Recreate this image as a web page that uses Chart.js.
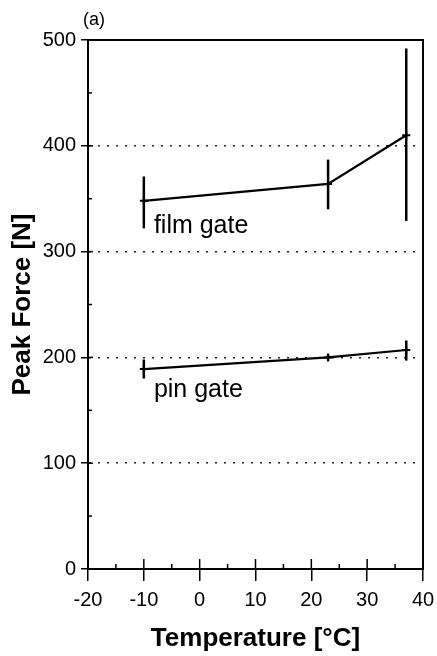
<!DOCTYPE html>
<html>
<head>
<meta charset="utf-8">
<script src="https://cdn.jsdelivr.net/npm/chart.js@4.4.1/dist/chart.umd.min.js"></script>
<style>
  body { margin: 0; background: #fff; }
  canvas { display: block; }
</style>
</head>
<body>
<canvas id="peak-force-chart" width="437" height="656"></canvas>
<script>
// temperatures [°C] and peak force [N]
const temps = [-10, 23, 37];
const filmForce = [348, 364, 410];
const filmErrLow = [322, 340, 329];
const filmErrHigh = [371, 387, 492];
const pinForce = [189, 200, 207];
const pinErrLow = [180, 197, 197];
const pinErrHigh = [198, 203, 216];

const xTicks = [-20, -10, 0, 10, 20, 30, 40];
const xMinor = [-15, -5, 5, 15, 25, 35];
const yTicks = [0, 100, 200, 300, 400, 500];
const yMinor = [50, 150, 250, 350, 450];

const FONT = "'Liberation Sans', Arial, Helvetica, sans-serif";

function points(ys) {
    return temps.map((t, i) => ({ x: t, y: ys[i] }));
}

// error bars, inward ticks and text labels drawn through the scales
const extras = {
    id: 'extras',
    afterDatasetsDraw(chart) {
        const ctx = chart.ctx;
        const xs = chart.scales.x, ys = chart.scales.y;
        const area = chart.chartArea;

        ctx.save();
        ctx.strokeStyle = '#000';
        ctx.lineCap = 'butt';

        // error bars
        ctx.lineWidth = 2.5;
        chart.data.datasets.forEach(ds => {
            ds.errLow.forEach((lo, i) => {
                const px = xs.getPixelForValue(temps[i]);
                ctx.beginPath();
                ctx.moveTo(px, ys.getPixelForValue(lo));
                ctx.lineTo(px, ys.getPixelForValue(ds.errHigh[i]));
                ctx.stroke();
            });
        });

        // inward tick marks
        ctx.lineWidth = 1.5;
        xTicks.forEach(v => {
            const px = xs.getPixelForValue(v);
            ctx.beginPath();
            ctx.moveTo(px, area.bottom);
            ctx.lineTo(px, area.bottom - 10);
            ctx.stroke();
        });
        xMinor.forEach(v => {
            const px = xs.getPixelForValue(v);
            ctx.beginPath();
            ctx.moveTo(px, area.bottom);
            ctx.lineTo(px, area.bottom - 5);
            ctx.stroke();
        });
        yTicks.forEach(v => {
            const py = ys.getPixelForValue(v);
            ctx.beginPath();
            ctx.moveTo(area.left, py);
            ctx.lineTo(area.left + 5, py);
            ctx.stroke();
        });
        yMinor.forEach(v => {
            const py = ys.getPixelForValue(v);
            ctx.beginPath();
            ctx.moveTo(area.left, py);
            ctx.lineTo(area.left + 4, py);
            ctx.stroke();
        });

        // series labels
        ctx.fillStyle = '#000';
        ctx.font = '25px ' + FONT;
        ctx.textAlign = 'left';
        ctx.textBaseline = 'alphabetic';
        ctx.fillText('film gate', xs.getPixelForValue(-8.2), ys.getPixelForValue(318));
        ctx.fillText('pin gate', xs.getPixelForValue(-8.2), ys.getPixelForValue(163));

        // panel letter
        ctx.font = '18px ' + FONT;
        ctx.fillText('(a)', 83, 25);
        ctx.restore();
    }
};

new Chart(document.getElementById('peak-force-chart'), {
    type: 'line',
    data: {
        datasets: [
            {
                label: 'film gate',
                data: points(filmForce),
                errLow: filmErrLow,
                errHigh: filmErrHigh,
            },
            {
                label: 'pin gate',
                data: points(pinForce),
                errLow: pinErrLow,
                errHigh: pinErrHigh,
            }
        ].map(ds => Object.assign(ds, {
            borderColor: '#000',
            backgroundColor: '#000',
            borderWidth: 2.2,
            pointStyle: 'cross',
            pointRadius: 4,
            pointBorderWidth: 2,
            tension: 0,
        }))
    },
    options: {
        responsive: false,
        animation: false,
        layout: { padding: 0, autoPadding: false },
        plugins: {
            legend: { display: false },
            tooltip: { enabled: false },
        },
        scales: {
            x: {
                type: 'linear',
                position: 'bottom',
                min: -20,
                max: 40,
                afterBuildTicks: s => { s.ticks = xTicks.map(v => ({ value: v })); },
                afterFit: s => {
                    s.height = 87;
                    s.paddingLeft = 0;
                    s.paddingRight = 0;
                },
                ticks: {
                    color: '#000',
                    font: { family: FONT, size: 20 },
                    padding: 7,
                    maxRotation: 0,
                },
                grid: {
                    drawOnChartArea: false,
                    color: '#000',
                    tickColor: '#000',
                    tickLength: 12,
                    lineWidth: 1.5,
                },
                border: { color: '#000', width: 2 },
                title: {
                    display: true,
                    text: 'Temperature [°C]',
                    color: '#000',
                    font: { family: FONT, size: 26, weight: 'bold' },
                    padding: { top: 0, bottom: 2 },
                },
            },
            y: {
                type: 'linear',
                position: 'left',
                min: 0,
                max: 500,
                afterBuildTicks: s => { s.ticks = yTicks.map(v => ({ value: v })); },
                afterFit: s => {
                    s.width = 88;
                    s.paddingTop = 0;
                    s.paddingBottom = 0;
                },
                ticks: {
                    color: '#000',
                    font: { family: FONT, size: 20 },
                    padding: 5,
                },
                grid: {
                    color: c => (c.tick && (c.tick.value === 0 || c.tick.value === 500)) ? 'rgba(0,0,0,0)' : '#222',
                    tickColor: '#000',
                    tickLength: 7,
                    lineWidth: 1.5,
                    tickBorderDash: [],
                },
                border: { color: '#000', width: 2, dash: [2, 7] },
                title: {
                    display: true,
                    text: 'Peak Force [N]',
                    color: '#000',
                    font: { family: FONT, size: 26, weight: 'bold' },
                    padding: { top: 7, bottom: 0 },
                },
            },
            x2: {
                type: 'linear',
                position: 'top',
                min: 0,
                max: 1,
                afterFit: s => { s.height = 40; },
                ticks: { display: false },
                grid: { display: false },
                border: { color: '#000', width: 2 },
            },
            y2: {
                type: 'linear',
                position: 'right',
                min: 0,
                max: 1,
                afterFit: s => { s.width = 14; },
                ticks: { display: false },
                grid: { display: false },
                border: { color: '#000', width: 2 },
            },
        },
    },
    plugins: [extras],
});
</script>
</body>
</html>
